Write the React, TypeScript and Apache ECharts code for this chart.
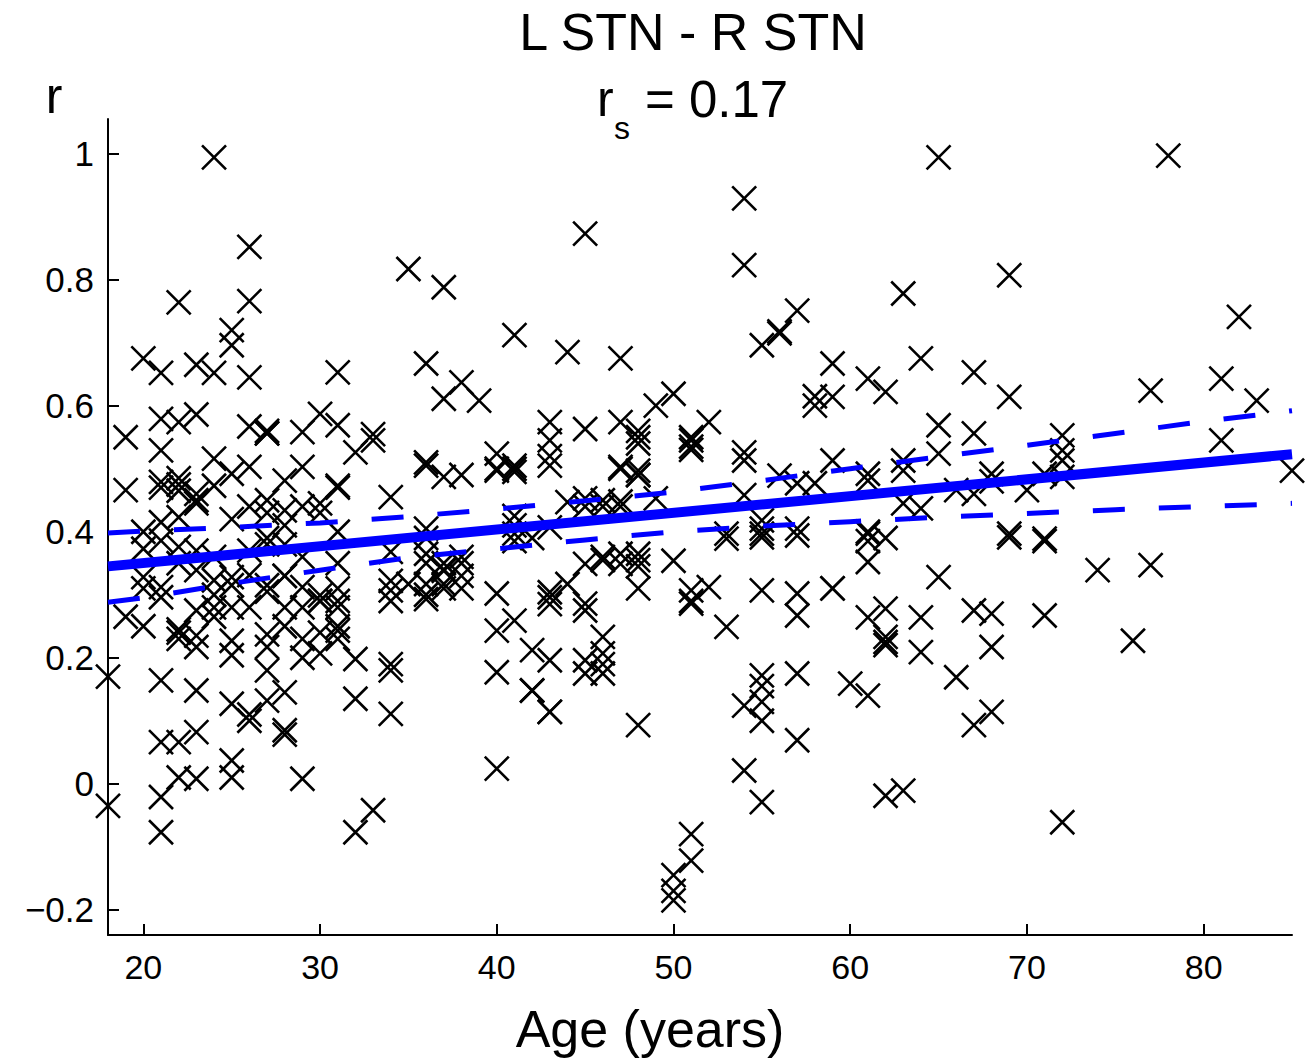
import React, { useEffect, useRef } from "react";
import * as echarts from "echarts";

// [age (years), r]
const scatterPoints: [number, number][] = [
  [18, 0.17], [18, -0.035],
  [19, 0.55], [19, 0.466], [19, 0.265],
  [20, 0.675], [20, 0.4], [20, 0.373], [20, 0.328], [20, 0.31], [20, 0.25],
  [21, 0.652], [21, 0.579], [21, 0.529], [21, 0.479], [21, 0.47], [21, 0.415], [21, 0.386], [21, 0.312], [21, 0.296], [21, 0.164], [21, 0.066], [21, -0.021], [21, -0.077],
  [22, 0.764], [22, 0.574], [22, 0.485], [22, 0.475], [22, 0.465], [22, 0.423], [22, 0.376], [22, 0.35], [22, 0.245], [22, 0.24], [22, 0.23], [22, 0.066], [22, 0.01],
  [23, 0.665], [23, 0.586], [23, 0.46], [23, 0.45], [23, 0.445], [23, 0.37], [23, 0.339], [23, 0.275], [23, 0.235], [23, 0.217], [23, 0.148], [23, 0.082], [23, 0.008],
  [24, 0.994], [24, 0.652], [24, 0.516], [24, 0.473], [24, 0.36], [24, 0.323], [24, 0.3], [24, 0.28], [24, 0.265],
  [25, 0.72], [25, 0.696], [25, 0.492], [25, 0.42], [25, 0.328], [25, 0.315], [25, 0.28], [25, 0.227], [25, 0.204], [25, 0.127], [25, 0.037], [25, 0.01],
  [26, 0.852], [26, 0.766], [26, 0.645], [26, 0.567], [26, 0.503], [26, 0.44], [26, 0.37], [26, 0.331], [26, 0.28], [26, 0.11], [26, 0.1],
  [27, 0.56], [27, 0.556], [27, 0.556], [27, 0.45], [27, 0.43], [27, 0.39], [27, 0.38], [27, 0.315], [27, 0.305], [27, 0.237], [27, 0.217], [27, 0.18], [27, 0.132],
  [28, 0.481], [28, 0.434], [28, 0.41], [28, 0.38], [28, 0.33], [28, 0.33], [28, 0.28], [28, 0.25], [28, 0.145], [28, 0.085], [28, 0.078],
  [29, 0.558], [29, 0.503], [29, 0.44], [29, 0.36], [29, 0.312], [29, 0.28], [29, 0.23], [29, 0.2], [29, 0.008],
  [30, 0.587], [30, 0.445], [30, 0.43], [30, 0.299], [30, 0.29], [30, 0.29], [30, 0.24], [30, 0.207],
  [31, 0.653], [31, 0.569], [31, 0.473], [31, 0.47], [31, 0.4], [31, 0.35], [31, 0.31], [31, 0.29], [31, 0.28], [31, 0.25], [31, 0.243], [31, 0.23],
  [32, 0.526], [32, 0.198], [32, 0.135], [32, -0.077],
  [33, 0.555], [33, 0.545], [33, -0.042],
  [34, 0.455], [34, 0.368], [34, 0.322], [34, 0.307], [34, 0.29], [34, 0.19], [34, 0.18], [34, 0.111],
  [35, 0.817], [35, 0.317],
  [36, 0.667], [36, 0.51], [36, 0.505], [36, 0.405], [36, 0.39], [36, 0.365], [36, 0.35], [36, 0.317], [36, 0.3], [36, 0.293],
  [37, 0.788], [37, 0.611], [37, 0.487], [37, 0.35], [37, 0.34], [37, 0.338], [37, 0.317], [37, 0.31],
  [38, 0.637], [38, 0.49], [38, 0.36], [38, 0.35], [38, 0.33], [38, 0.31],
  [39, 0.608],
  [40, 0.524], [40, 0.5], [40, 0.497], [40, 0.302], [40, 0.243], [40, 0.177], [40, 0.024],
  [41, 0.712], [41, 0.505], [41, 0.5], [41, 0.495], [41, 0.425], [41, 0.41], [41, 0.397], [41, 0.385], [41, 0.259],
  [42, 0.39], [42, 0.212], [42, 0.148], [42, 0.148],
  [43, 0.574], [43, 0.545], [43, 0.52], [43, 0.505], [43, 0.407], [43, 0.304], [43, 0.296], [43, 0.285], [43, 0.196], [43, 0.114], [43, 0.114],
  [44, 0.685], [44, 0.447], [44, 0.317],
  [45, 0.873], [45, 0.563], [45, 0.453], [45, 0.44], [45, 0.349], [45, 0.286], [45, 0.275], [45, 0.196], [45, 0.175],
  [46, 0.45], [46, 0.44], [46, 0.36], [46, 0.355], [46, 0.233], [46, 0.207], [46, 0.19], [46, 0.175],
  [47, 0.675], [47, 0.574], [47, 0.503], [47, 0.5], [47, 0.448], [47, 0.44], [47, 0.365], [47, 0.349],
  [48, 0.56], [48, 0.55], [48, 0.54], [48, 0.497], [48, 0.49], [48, 0.49], [48, 0.365], [48, 0.355], [48, 0.345], [48, 0.31], [48, 0.093],
  [49, 0.6], [49, 0.453],
  [50, 0.619], [50, 0.354], [50, -0.145], [50, -0.17], [50, -0.185],
  [51, 0.55], [51, 0.545], [51, 0.535], [51, 0.53], [51, 0.307], [51, 0.29], [51, 0.286], [51, -0.08], [51, -0.122],
  [52, 0.574], [52, 0.312],
  [53, 0.397], [53, 0.389], [53, 0.249],
  [54, 0.929], [54, 0.823], [54, 0.526], [54, 0.513], [54, 0.458], [54, 0.124], [54, 0.021],
  [55, 0.696], [55, 0.418], [55, 0.405], [55, 0.397], [55, 0.391], [55, 0.307], [55, 0.172], [55, 0.155], [55, 0.13], [55, 0.1], [55, -0.029],
  [56, 0.718], [56, 0.715], [56, 0.489],
  [57, 0.751], [57, 0.477], [57, 0.405], [57, 0.394], [57, 0.302], [57, 0.267], [57, 0.175], [57, 0.069],
  [58, 0.615], [58, 0.6], [58, 0.477],
  [59, 0.667], [59, 0.614], [59, 0.513], [59, 0.31], [59, 0.31],
  [60, 0.159],
  [61, 0.643], [61, 0.492], [61, 0.481], [61, 0.4], [61, 0.397], [61, 0.385], [61, 0.352], [61, 0.264], [61, 0.14],
  [62, 0.622], [62, 0.39], [62, 0.278], [62, 0.233], [62, 0.225], [62, 0.22], [62, -0.019],
  [63, 0.778], [63, 0.513], [63, 0.497], [63, 0.445], [63, -0.011],
  [64, 0.675], [64, 0.437], [64, 0.264], [64, 0.209],
  [65, 0.994], [65, 0.569], [65, 0.524], [65, 0.328],
  [66, 0.466], [66, 0.169],
  [67, 0.653], [67, 0.556], [67, 0.46], [67, 0.275], [67, 0.093],
  [68, 0.492], [68, 0.48], [68, 0.27], [68, 0.217], [68, 0.114],
  [69, 0.807], [69, 0.614], [69, 0.397], [69, 0.391],
  [70, 0.466],
  [71, 0.492], [71, 0.389], [71, 0.385], [71, 0.267],
  [72, 0.553], [72, 0.529], [72, 0.513], [72, 0.487], [72, -0.061],
  [74, 0.339],
  [76, 0.227],
  [77, 0.624], [77, 0.347],
  [78, 0.997],
  [81, 0.643], [81, 0.545],
  [82, 0.741],
  [83, 0.608],
  [85, 0.497],
];

const fitLine: [number, number][] = [[18, 0.345], [85, 0.523]];

const ciUpper: [number, number][] = [
  [18, 0.398], [20, 0.401], [25, 0.407], [30, 0.414], [35, 0.424], [40, 0.436], [45, 0.449],
  [50, 0.463], [55, 0.481], [60, 0.5], [65, 0.519], [70, 0.537], [75, 0.556], [80, 0.575], [85, 0.592],
];
const ciLower: [number, number][] = [
  [18, 0.288], [20, 0.295], [25, 0.318], [30, 0.339], [35, 0.359], [40, 0.373], [45, 0.387],
  [50, 0.4], [55, 0.409], [60, 0.416], [65, 0.423], [70, 0.429], [75, 0.435], [80, 0.44], [85, 0.445],
];

const xTicks = [20, 30, 40, 50, 60, 70, 80];
const yTicks = [-0.2, 0, 0.2, 0.4, 0.6, 0.8, 1];

const titleText = "L STN - R STN";
const statLabel = "r";
const statSub = "s";
const statValue = "= 0.17";
const xName = "Age (years)";
const yName = "r";

const FONT = "'Liberation Sans', Arial, Helvetica, sans-serif";
const BLUE = "#0000ff";

export default function App() {
  const ref = useRef<HTMLDivElement>(null);
  useEffect(() => {
    if (!ref.current) return;
    const chart = echarts.init(ref.current, null, { renderer: "svg" });
    const fmt = (v: number) => (v < 0 ? "\u2212" + String(Math.abs(v)) : String(v));
    chart.setOption({
      animation: false,
      backgroundColor: "#ffffff",
      grid: { left: 108, right: 21, top: 119, bottom: 128, containLabel: false },
      xAxis: {
        type: "value",
        min: 18,
        max: 85,
        axisLine: { show: true, onZero: false, lineStyle: { color: "#000", width: 2 } },
        axisTick: { show: true, inside: true, length: 11, customValues: xTicks, lineStyle: { color: "#000", width: 2 } },
        axisLabel: { customValues: xTicks, margin: 15, fontSize: 34, color: "#000", fontFamily: FONT },
        splitLine: { show: false },
      },
      yAxis: {
        type: "value",
        min: -0.24,
        max: 1.055,
        axisLine: { show: true, onZero: false, lineStyle: { color: "#000", width: 2 } },
        axisTick: { show: true, inside: true, length: 11, customValues: yTicks, lineStyle: { color: "#000", width: 2 } },
        axisLabel: { customValues: yTicks, margin: 14, fontSize: 35, color: "#000", fontFamily: FONT, formatter: fmt },
        splitLine: { show: false },
      },
      graphic: [
        { type: "text", x: 693, y: 32, style: { text: titleText, fontSize: 52, fontFamily: FONT, fill: "#000", textAlign: "center", textVerticalAlign: "middle" } },
        { type: "text", x: 597, y: 99, style: { text: statLabel, fontSize: 50, fontFamily: FONT, fill: "#000", textAlign: "left", textVerticalAlign: "middle" } },
        { type: "text", x: 614, y: 128, style: { text: statSub, fontSize: 32, fontFamily: FONT, fill: "#000", textAlign: "left", textVerticalAlign: "middle" } },
        { type: "text", x: 645, y: 99, style: { text: statValue, fontSize: 51, fontFamily: FONT, fill: "#000", textAlign: "left", textVerticalAlign: "middle" } },
        { type: "text", x: 54, y: 96, style: { text: yName, fontSize: 50, fontFamily: FONT, fill: "#000", textAlign: "center", textVerticalAlign: "middle" } },
        { type: "text", x: 650, y: 1029, style: { text: xName, fontSize: 52, fontFamily: FONT, fill: "#000", textAlign: "center", textVerticalAlign: "middle" } },
      ],
      series: [
        {
          type: "scatter",
          data: scatterPoints,
          symbol: "path://M0,0L10,10M10,0L0,10",
          symbolSize: 24,
          itemStyle: { color: "rgba(0,0,0,0)", borderColor: "#000", borderWidth: 2.6, opacity: 1 },
          z: 2,
        },
        {
          type: "line",
          data: fitLine,
          showSymbol: false,
          symbol: "none",
          lineStyle: { color: BLUE, width: 10 },
          z: 3,
        },
        {
          type: "line",
          data: ciUpper,
          showSymbol: false,
          symbol: "none",
          lineStyle: { color: BLUE, width: 5, type: [32, 34] },
          z: 3,
        },
        {
          type: "line",
          data: ciLower,
          showSymbol: false,
          symbol: "none",
          lineStyle: { color: BLUE, width: 5, type: [32, 34] },
          z: 3,
        },
      ],
    });
    return () => chart.dispose();
  }, []);
  return <div ref={ref} style={{ position: "absolute", left: 0, top: 0, width: 1313, height: 1063 }} />;
}
